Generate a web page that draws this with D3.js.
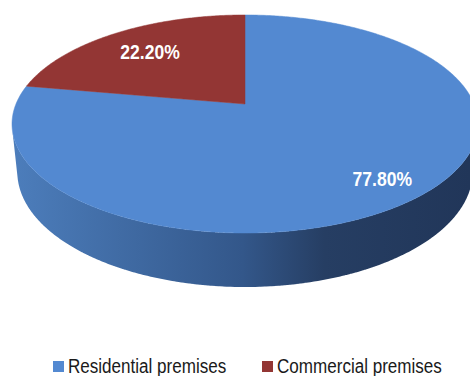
<!DOCTYPE html>
<html>
<head>
<meta charset="utf-8">
<script src="https://cdn.jsdelivr.net/npm/d3@7"></script>
<style>
  html, body { margin: 0; padding: 0; background: #fff; }
  svg { display: block; }
</style>
</head>
<body>
<svg id="chart" width="470" height="376"></svg>
<script>
// Share of premises by type
const categories = ["Residential premises", "Commercial premises"];
const shares = [77.8, 22.2];
const valueLabels = ["77.80%", "22.20%"];
const sliceColors = ["#5389d1", "#933634"];

const svg = d3.select("#chart");
const FONT = "'Liberation Sans', Arial, sans-serif";

// Perspective camera for a tilted 3D disk (radius 1, thickness T)
const cam = { cx: 245, cy: 104, D: 4.842, f: 1109, sinA: 0.46, cosA: 0.888 };
const T = 0.237;

function project(X, Y, Z) {
  const depth = cam.D - Y * cam.sinA - Z * cam.cosA;
  const yc = Y * cam.cosA - Z * cam.sinA;
  return [cam.cx + cam.f * X / depth, cam.cy - cam.f * yc / depth];
}
// Angle measured clockwise from 12 o'clock, as d3.pie reports it
function rimPoint(theta, r, Y) {
  return project(r * Math.sin(theta), Y, -r * Math.cos(theta));
}

const color = d3.scaleOrdinal().domain(categories).range(sliceColors);
const pie = d3.pie().sort(null).value(d => d.value);
const arcs = pie(categories.map((c, i) => ({ name: c, value: shares[i], label: valueLabels[i] })));

// Gradients for the side walls
const defs = svg.append("defs");
const sideStops = {
  "Residential premises": [[0, "#4c7dbb"], [0.5, "#33578a"], [0.68, "#263e63"], [1, "#213659"]],
  "Commercial premises": [[0, "#8a3331"], [1, "#4a1b1a"]]
};
categories.forEach((c, i) => {
  const g = defs.append("linearGradient")
    .attr("id", "side" + i)
    .attr("gradientUnits", "userSpaceOnUse")
    .attr("x1", 15).attr("x2", 470).attr("y1", 0).attr("y2", 0);
  sideStops[c].forEach(([o, col]) => g.append("stop").attr("offset", o).attr("stop-color", col));
});

const line = d3.line();
const signedArea = pts => d3.polygonArea(pts);

// Side wall: camera-facing quads of each slice merged into one path
const frontSign = Math.sign(signedArea([
  rimPoint(Math.PI - 0.01, 1, 0), rimPoint(Math.PI + 0.01, 1, 0),
  rimPoint(Math.PI + 0.01, 1, -T), rimPoint(Math.PI - 0.01, 1, -T)
]));
const sides = arcs.map((a, i) => {
  const n = Math.max(8, Math.ceil((a.endAngle - a.startAngle) / 0.01));
  const step = (a.endAngle - a.startAngle) / n;
  let d = "";
  for (let k = 0; k < n; k++) {
    const t0 = a.startAngle + k * step, t1 = t0 + step * 1.5 > a.endAngle ? a.endAngle : t0 + step * 1.5;
    const pts = [rimPoint(t0, 1, 0), rimPoint(t1, 1, 0), rimPoint(t1, 1, -T), rimPoint(t0, 1, -T)];
    if (Math.sign(signedArea(pts)) === frontSign) d += line(pts) + "Z";
  }
  return { i, d };
}).filter(s => s.d.length);

svg.append("g").attr("class", "sides")
  .selectAll("path").data(sides).join("path")
  .attr("d", d => d.d)
  .attr("fill-rule", "nonzero")
  .attr("fill", d => `url(#side${d.i})`);

// Top face slices
function topPath(a) {
  const n = Math.max(8, Math.ceil((a.endAngle - a.startAngle) / 0.01));
  const pts = [rimPoint(0, 0, 0)];
  for (let k = 0; k <= n; k++) {
    pts.push(rimPoint(a.startAngle + (a.endAngle - a.startAngle) * k / n, 1, 0));
  }
  return line(pts) + "Z";
}
svg.append("g").attr("class", "top")
  .selectAll("path").data(arcs).join("path")
  .attr("d", topPath)
  .attr("fill", d => color(d.data.name))
  .attr("stroke", d => color(d.data.name))
  .attr("stroke-width", 0.5);

// Value labels inside the slices (condensed by a horizontal scale)
const labelRadius = d => (d.endAngle - d.startAngle) > Math.PI ? 0.825 : 0.71;
svg.append("g").attr("class", "labels")
  .selectAll("text").data(arcs).join("text")
  .attr("transform", d => {
    const p = rimPoint((d.startAngle + d.endAngle) / 2, labelRadius(d), 0);
    return `translate(${p[0]},${p[1]}) scale(0.9,1)`;
  })
  .attr("text-anchor", "middle")
  .attr("dy", "0.36em")
  .attr("fill", "#ffffff")
  .attr("font-family", FONT)
  .attr("font-weight", "bold")
  .attr("font-size", 19.5)
  .text(d => d.data.label);

// Legend
const legendX = [53, 262];
const legend = svg.append("g").attr("class", "legend")
  .selectAll("g").data(categories).join("g")
  .attr("transform", (d, i) => `translate(${legendX[i]},361)`);
legend.append("rect")
  .attr("width", 11).attr("height", 11)
  .attr("fill", d => color(d));
legend.append("text")
  .attr("transform", "translate(15,12) scale(0.875,1)")
  .attr("fill", "#1a1a1a")
  .attr("font-family", FONT)
  .attr("font-size", 19.5)
  .text(d => d);
</script>
</body>
</html>
